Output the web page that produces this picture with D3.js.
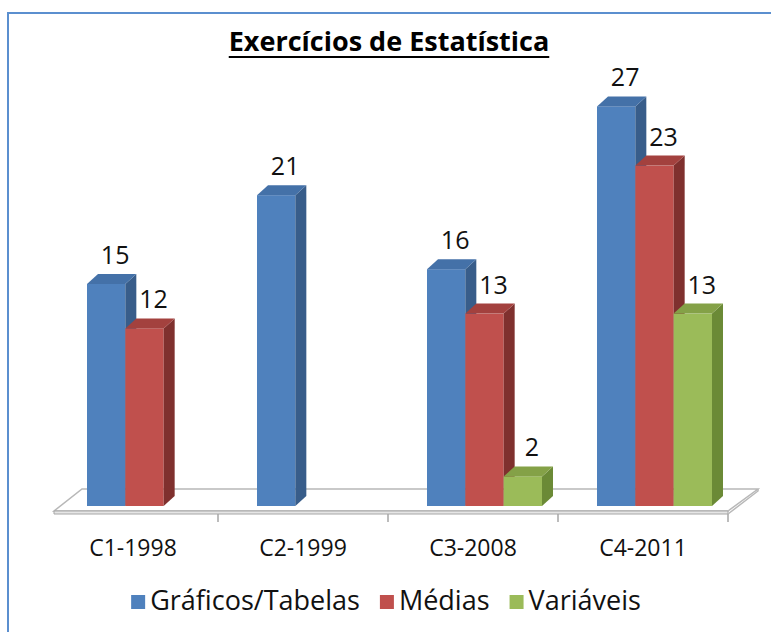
<!DOCTYPE html>
<html>
<head>
<meta charset="utf-8">
<script src="https://cdn.jsdelivr.net/npm/d3@7"></script>
<style>
  body { margin: 0; background: #fff; }
  svg { display: block; font-family: "Open Sans", Lato, sans-serif; }
</style>
</head>
<body>
<svg></svg>
<script>
const categories = ["C1-1998", "C2-1999", "C3-2008", "C4-2011"];
const seriesNames = ["Gráficos/Tabelas", "Médias", "Variáveis"];
const graficos = [15, 21, 16, 27];
const medias = [12, null, 13, 23];
const variaveis = [null, null, 2, 13];

const width = 771;
const height = 632;
const base = 506;     // front bottom of the bars
const dx = 11, dy = -10; // 3d depth offset

const colors = [
  { front: "#4f81bd", top: "#4471a8", side: "#385d8a" },
  { front: "#c0504d", top: "#a3413e", side: "#7f302e" },
  { front: "#9bbb59", top: "#84a147", side: "#6b8a36" }
];

const values = [graficos, medias, variaveis];
const data = [];
categories.forEach((c, i) => {
  seriesNames.forEach((s, j) => {
    if (values[j][i] != null) data.push({ cat: c, series: s, si: j, value: values[j][i] });
  });
});

const svg = d3.select("svg")
  .attr("width", width)
  .attr("height", height);

// chart frame
svg.append("rect")
  .attr("x", 8).attr("y", 13)
  .attr("width", width + 20).attr("height", height + 20)
  .attr("fill", "none")
  .attr("stroke", "#5b8fcf")
  .attr("stroke-width", 2);

const x0 = d3.scaleBand()
  .domain(categories)
  .range([48, 728]);

const x1 = d3.scaleBand()
  .domain(seriesNames)
  .range([39, 154]);

const y = d3.scaleLinear()
  .domain([0, 30])
  .range([base, base - 444]);

// floor
const fl = x0.range()[0] + 6, fr = x0.range()[1];
const floorTop = 511, floorBack = 489, floorShift = 30;
svg.append("path")
  .attr("d", `M${fl},${floorTop} L${fr},${floorTop} L${fr + floorShift},${floorBack} L${fl + 28},${floorBack} Z`)
  .attr("fill", "#fff")
  .attr("stroke", "#b8b8b8")
  .attr("stroke-width", 1.5);
svg.append("path")
  .attr("d", `M${fl},${floorTop} L${fr},${floorTop} L${fr},${floorTop + 3} L${fl},${floorTop + 3} Z`)
  .attr("fill", "#e6e6e6")
  .attr("stroke", "#a6a6a6")
  .attr("stroke-width", 1);
svg.append("path")
  .attr("d", `M${fr},${floorTop + 3} L${fr + floorShift},${floorBack + 2} L${fr + floorShift},${floorBack}`)
  .attr("fill", "none")
  .attr("stroke", "#b8b8b8")
  .attr("stroke-width", 1.5);

// category ticks
svg.selectAll(".tick")
  .data(categories)
  .enter()
  .append("line")
  .attr("x1", d => x0(d) + x0.bandwidth())
  .attr("x2", d => x0(d) + x0.bandwidth())
  .attr("y1", floorTop + 3)
  .attr("y2", floorTop + 11)
  .attr("stroke", "#a6a6a6")
  .attr("stroke-width", 1.5);

// bars
const bars = svg.selectAll(".bar")
  .data(data)
  .enter()
  .append("g")
  .attr("class", "bar");

bars.append("rect")
  .attr("x", d => x0(d.cat) + x1(d.series))
  .attr("y", d => y(d.value))
  .attr("width", x1.bandwidth())
  .attr("height", d => base - y(d.value))
  .attr("fill", d => colors[d.si].front);

bars.append("path")
  .attr("d", d => {
    const xr = x0(d.cat) + x1(d.series) + x1.bandwidth();
    const yt = y(d.value);
    return `M${xr},${yt} L${xr + dx},${yt + dy} L${xr + dx},${base + dy} L${xr},${base} Z`;
  })
  .attr("fill", d => colors[d.si].side);

bars.append("path")
  .attr("d", d => {
    const xl = x0(d.cat) + x1(d.series);
    const xr = xl + x1.bandwidth();
    const yt = y(d.value);
    return `M${xl},${yt} L${xl + dx},${yt + dy} L${xr + dx},${yt + dy} L${xr},${yt} Z`;
  })
  .attr("fill", d => colors[d.si].top);

// value labels
svg.selectAll(".label")
  .data(data)
  .enter()
  .append("text")
  .attr("class", "label")
  .attr("x", d => x0(d.cat) + x1(d.series) + x1.bandwidth() / 2 + 9)
  .attr("y", d => y(d.value) + dy - 10)
  .attr("text-anchor", "middle")
  .attr("font-size", 25)
  .attr("fill", "#111")
  .text(d => d.value);

// category labels
svg.selectAll(".cat")
  .data(categories)
  .enter()
  .append("text")
  .attr("class", "cat")
  .attr("x", d => x0(d) + x0.bandwidth() / 2)
  .attr("y", 556)
  .attr("text-anchor", "middle")
  .attr("font-size", 23)
  .attr("fill", "#111")
  .text(d => d);

// title
const title = svg.append("text")
  .attr("x", 389)
  .attr("y", 51)
  .attr("text-anchor", "middle")
  .attr("font-size", 27)
  .attr("font-weight", "bold")
  .attr("fill", "#000")
  .text("Exercícios de Estatística");
const tw = title.node().getComputedTextLength();
svg.append("line")
  .attr("x1", 389 - tw / 2).attr("x2", 389 + tw / 2)
  .attr("y1", 57).attr("y2", 57)
  .attr("stroke", "#000")
  .attr("stroke-width", 2);

// legend
const legend = svg.append("g").attr("id", "legend");
const items = legend.selectAll("g")
  .data(seriesNames)
  .enter()
  .append("g");
items.append("rect")
  .attr("width", 14).attr("height", 14)
  .attr("y", -15)
  .attr("fill", (d, i) => colors[i].front);
items.append("text")
  .attr("x", 19)
  .attr("font-size", 27)
  .attr("fill", "#111")
  .text(d => d);
let offs = 0;
const positions = [];
items.each(function () {
  positions.push(offs);
  offs += 19 + d3.select(this).select("text").node().getComputedTextLength() + 20;
});
offs -= 20;
items.attr("transform", (d, i) => `translate(${positions[i]},0)`);
legend.attr("transform", `translate(${386 - offs / 2},610)`);
</script>
</body>
</html>
